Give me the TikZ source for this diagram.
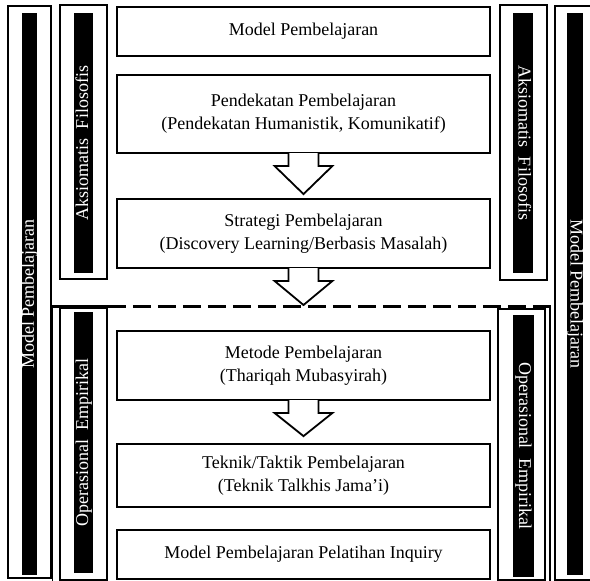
\documentclass[tikz,border=0pt]{standalone}
\usepackage{fontspec}
\setmainfont{Liberation Serif}
\usetikzlibrary{calc}

\begin{document}
\begin{tikzpicture}[x=1pt, y=-1pt,
    boxstyle/.style={draw, line width=1.8pt, minimum width=373, align=center, inner sep=0pt,
        font=\fontsize{18}{23}\selectfont},
    framestyle/.style={draw, line width=1.8pt, inner sep=0pt},
    barstyle/.style={fill=black, text=white, inner sep=0pt, text height=12pt, text depth=3pt,
        font=\fontsize{18}{23}\selectfont},
    arrowstyle/.style={draw, line width=1.8pt, fill=white, line join=miter}]

    \newcommand*{\stemhalf}{15pt}%
    \newcommand*{\headhalf}{29pt}%
    \newcommand*{\stemlen}{12pt}%
    \newcommand*{\bigarrow}[2]{%
        \path[arrowstyle] let \p1=(#1.south), \p2=(#2) in
            (\x1-\stemhalf,\y1+0.9pt) -- (\x1-\stemhalf,\y1-\stemlen) -- (\x1-\headhalf,\y1-\stemlen)
            -- (\x1,\y2) -- (\x1+\headhalf,\y1-\stemlen) -- (\x1+\stemhalf,\y1-\stemlen)
            -- (\x1+\stemhalf,\y1+0.9pt);}

    \useasboundingbox (0,0) rectangle (590,581);
    \clip (0,0) rectangle (590,581);

    % middle column ↓
    \node [boxstyle, minimum height=49] (model)   at (303.5,31.5)  {Model Pembelajaran};
    \node [boxstyle, minimum height=78] (pend)    at (303.5,114)   {Pendekatan Pembelajaran\\(Pendekatan Humanistik, Komunikatif)};
    \node [boxstyle, minimum height=69] (strat)   at (303.5,233.5) {Strategi Pembelajaran\\(Discovery Learning/Berbasis Masalah)};
    \node [boxstyle, minimum height=69] (metode)  at (303.5,365.5) {Metode Pembelajaran\\(Thariqah Mubasyirah)};
    \node [boxstyle, minimum height=63] (teknik)  at (303.5,475.5) {Teknik/Taktik Pembelajaran\\(Teknik Talkhis Jama’i)};
    \node [boxstyle, minimum height=49] (inquiry) at (303.5,554.5) {Model Pembelajaran Pelatihan Inquiry};

    % side frames ↓
    \foreach \name/\x/\y/\w/\h in {aksL/83.5/142/47/274, opL/83.5/444/47/272,
                                  aksR/523.5/142.5/47/275, opR/521.5/444.5/47/271,
                                  mpL/29.5/292/43/572, mpR/576/293/42/574}
        \node [framestyle, minimum width=\w, minimum height=\h] (\name) at (\x,\y) {};

    % thin second edge of the lower frames ↓
    \draw [line width=1.2pt] ([xshift=-7pt]opL.north west) -- ([xshift=-7pt]opL.south west);
    \draw [line width=1.2pt] ([xshift=4pt]opR.north east) -- ([xshift=4pt]opR.south east);

    % black bars ↓
    \foreach \name/\x/\y/\len/\thick/\rot/\txt in {
            aksLbar/83.5/143/260/19/90/{Aksiomatis~~Filosofis},
            opLbar/83.5/442.5/261/19/90/{Operasional~~Empirikal},
            aksRbar/523/143/260/20/-90/{Aksiomatis~~Filosofis},
            opRbar/523.5/446/262/21/-90/{Operasional~~Empirikal},
            mpLbar/29.5/294/562/15/90/{Model Pembelajaran},
            mpRbar/575/294/562/16/-90/{Model Pembelajaran}}
        \node [barstyle, rotate=\rot, minimum width=\len, minimum height=\thick] (\name) at (\x,\y) {\txt};

    % boundary between the two parts ↓
    \coordinate (dashL) at (mpL.east |- 0,306);
    \coordinate (dashM) at (opL.east |- 0,306);
    \coordinate (dashR) at (mpR.west |- 0,306);
    \coordinate (cut) at (strat.south |- 0,305);

    % arrows ↓
    \bigarrow{pend}{[yshift=4pt]strat.north}
    \bigarrow{strat}{cut}
    \bigarrow{metode}{[yshift=7pt]teknik.north}

    \draw [line width=3pt] (dashL) -- (dashM);
    \draw [line width=3pt, dash pattern=on 18pt off 7pt] (dashM) -- (dashR);

\end{tikzpicture}
\end{document}
